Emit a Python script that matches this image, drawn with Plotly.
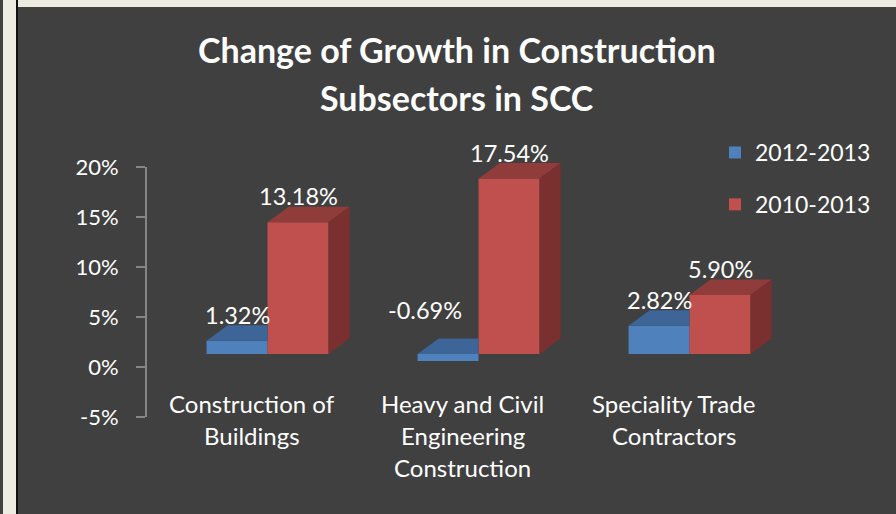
import plotly.graph_objects as go

# Data
categories = ["Construction of<br>Buildings",
              "Heavy and Civil<br>Engineering<br>Construction",
              "Speciality Trade<br>Contractors"]
series_names = ["2012-2013", "2010-2013"]
growth_2012_2013 = [1.32, -0.69, 2.82]
growth_2010_2013 = [13.18, 17.54, 5.90]
y_ticks = [-5, 0, 5, 10, 15, 20]

# Layout helpers (pixels)
W, H = 896, 514
L, R, T, B = 146, 779, 130, 440
BG = "#404040"
FONT = "Lato"


def px_x(p):
    return (p - L) / (R - L)


def px_y(p):
    return (B - p) / (B - T)


# Excel-like 3D look
bar_w = 0.289          # width of each bar (category units)
grp_off = 0.076        # group shifted right of the category centre
dx, dy = 0.1, 1.55     # depth offset (x units, % units)

blue = dict(front="#4F81BD", top="#3D6597")
red = dict(front="#C0504D", top="#8F3C3A", side="#7A302E")

x_idx = list(range(len(categories)))

fig = go.Figure()

# front faces
fig.add_trace(go.Bar(x=x_idx, y=growth_2012_2013, name=series_names[0],
                     width=bar_w, offset=grp_off - bar_w,
                     marker=dict(color=blue["front"], line_width=0),
                     legendgroup="a", yaxis="y"))
fig.add_trace(go.Bar(x=x_idx, y=growth_2010_2013, name=series_names[1],
                     width=bar_w, offset=grp_off,
                     marker=dict(color=red["front"], line_width=0),
                     legendgroup="b", yaxis="y"))

# top face of the blue bars (the back part is hidden behind the red bars)
bx, by = [], []
for i, v in zip(x_idx, growth_2012_2013):
    xl = i + grp_off - bar_w
    xr = i + grp_off
    t = max(v, 0)
    bx += [xl, xl + dx, xr, xr, xl, None]
    by += [t, t + dy, t + dy, t, t, None]
fig.add_trace(go.Scatter(x=bx, y=by, fill="toself", mode="lines",
                         line=dict(width=0), fillcolor=blue["top"],
                         showlegend=False, hoverinfo="skip"))

# top and side faces of the red bars
tx, ty, sx, sy = [], [], [], []
for i, v in zip(x_idx, growth_2010_2013):
    xl = i + grp_off
    xr = xl + bar_w
    tx += [xl, xl + dx, xr + dx, xr, xl, None]
    ty += [v, v + dy, v + dy, v, v, None]
    sx += [xr, xr + dx, xr + dx, xr, xr, None]
    sy += [0, dy, v + dy, v, 0, None]
fig.add_trace(go.Scatter(x=tx, y=ty, fill="toself", mode="lines",
                         line=dict(width=0), fillcolor=red["top"],
                         showlegend=False, hoverinfo="skip"))
fig.add_trace(go.Scatter(x=sx, y=sy, fill="toself", mode="lines",
                         line=dict(width=0), fillcolor=red["side"],
                         showlegend=False, hoverinfo="skip"))

annotations = []

# data labels
for vals, shift in ((growth_2012_2013, -bar_w / 2), (growth_2010_2013, bar_w / 2)):
    for i, v in zip(x_idx, vals):
        neg = v < 0
        annotations.append(dict(
            x=i + grp_off + shift, y=max(v, 0), xref="x", yref="y",
            text=f"{v:.2f}%", showarrow=False, yanchor="middle",
            xshift=-23 if neg else 0, yshift=44 if neg else 26,
            font=dict(family=FONT, size=23.5, color="white")))

# category labels, one annotation per line
for i, cat in enumerate(categories):
    for k, line in enumerate(cat.split("<br>")):
        annotations.append(dict(
            x=i, y=px_y(403 + 32 * k), xref="x", yref="paper",
            text=line, showarrow=False, yanchor="middle",
            font=dict(family=FONT, size=24, color="white")))

# title
for k, line in enumerate(["Change of Growth in Construction", "Subsectors in SCC"]):
    annotations.append(dict(
        x=px_x(457), y=px_y(49 + 48 * k), xref="paper", yref="paper",
        text=f"<b>{line}</b>", showarrow=False, yanchor="middle",
        font=dict(family=FONT, size=34, color="white")))

# bars axis: 0 sits at 354px, ticks axis: 0 sits at 367px (3D perspective)
ppu = 10.0
bar_range = [-(B - 354) / ppu, (354 - T) / ppu]
tick_range = [-(B - 367) / ppu, (367 - T) / ppu]

shapes = [
    # value axis line
    dict(type="line", xref="paper", yref="y2", x0=0, x1=0,
         y0=y_ticks[0], y1=y_ticks[-1], line=dict(color="#868686", width=2)),
    # page frame
    dict(type="rect", xref="paper", yref="paper", x0=px_x(3), x1=px_x(16),
         y0=px_y(H), y1=px_y(0), fillcolor="#EEEBE0", line_width=0),
    dict(type="rect", xref="paper", yref="paper", x0=px_x(16), x1=px_x(18),
         y0=px_y(H), y1=px_y(0), fillcolor="#111111", line_width=0),
    dict(type="rect", xref="paper", yref="paper", x0=px_x(18), x1=px_x(W),
         y0=px_y(7), y1=px_y(0), fillcolor="#EEEBE0", line_width=0),
]

fig.update_layout(
    width=W, height=H,
    margin=dict(l=L, r=W - R, t=T, b=H - B),
    paper_bgcolor=BG, plot_bgcolor=BG,
    barmode="overlay",
    showlegend=True,
    legend=dict(x=px_x(715), y=px_y(131), xanchor="left", yanchor="top",
                font=dict(family=FONT, size=23, color="white"),
                bgcolor="rgba(0,0,0,0)", tracegroupgap=19),
    xaxis=dict(range=[-0.5, 2.5], showticklabels=False, showgrid=False,
               zeroline=False, showline=False),
    yaxis=dict(range=bar_range, showticklabels=False, showgrid=False,
               zeroline=False, showline=False),
    yaxis2=dict(range=tick_range, overlaying="y", side="left", anchor="x",
                tickvals=y_ticks, ticktext=[f"{t}%" for t in y_ticks],
                ticks="outside", ticklen=9, tickwidth=2, tickcolor="#868686",
                ticklabelstandoff=13,
                tickfont=dict(family=FONT, size=22, color="white"),
                showgrid=False, zeroline=False, showline=False),
    annotations=annotations,
    shapes=shapes,
)

# drop the default page margin so the figure sits at the window corner
fig.write_html("out.html", config={"displayModeBar": False},
               post_script="document.body.style.margin='0';"
                           "document.body.style.background='%s';" % BG)
